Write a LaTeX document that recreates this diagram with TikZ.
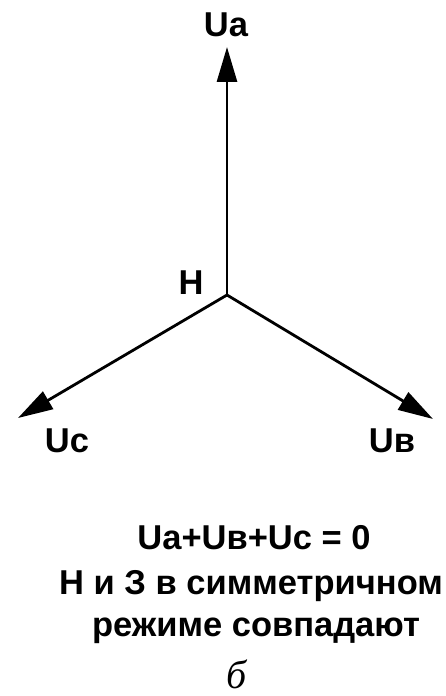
\documentclass[tikz,border=0pt]{standalone}
\usepackage{fontspec}
\setmainfont{Liberation Sans}
\newfontfamily\letterfont{Liberation Serif}
\usetikzlibrary{arrows.meta}

\tikzset{
  phasor/.style={line width=2.8pt,-{Triangle[length=35pt,width=20pt]}},
  lbl/.style={font=\bfseries\fontsize{34.5}{40}\selectfont,inner sep=0pt,anchor=base},
  note/.style={font=\bfseries\fontsize{34.5}{40}\selectfont,inner sep=0pt,anchor=base}
}

\begin{document}
\begin{tikzpicture}[x=10pt,y=10pt]
  \useasboundingbox (0,0) rectangle (44.6,69.6);
  \coordinate (N) at (22.7,40.1);
  \coordinate (A) at (22.7,64.9);
  \coordinate (B) at (43.3,27.7);
  \coordinate (C) at (1.8,27.8);
  \draw[phasor] (N)--(A);
  \draw[phasor] (N)--(B);
  \draw[phasor] (N)--(C);
  \node[lbl] (ua) at (22.6,65.9) {Ua};
  \node[lbl] (ub) at (39.2,24.3) {Uв};
  \node[lbl] (uc) at (6.7,24.3) {Uc};
  \node[lbl] (nn) at (19.1,40.1) {Н};
  \node[note] (sum) at (25.4,14.6) {Ua+Uв+Uc = 0};
  \node[note] (line2) at (25.1,10.1) {Н и З в симметричном};
  \node[note] (line3) at (25.6,5.9) {режиме совпадают};
  \node[inner sep=0pt,anchor=base,font=\letterfont\itshape\fontsize{40}{44}\selectfont] (fig) at (23.7,0.8) {б};
\end{tikzpicture}
\end{document}
